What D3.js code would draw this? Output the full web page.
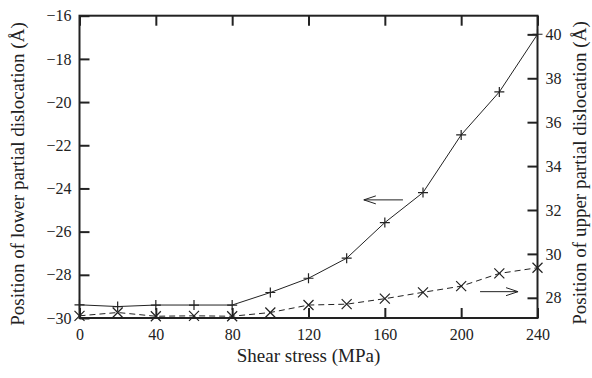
<!DOCTYPE html>
<html><head><meta charset="utf-8">
<script src="https://cdn.jsdelivr.net/npm/d3@7"></script>
<style>
html,body{margin:0;padding:0;background:#fff;}
svg{display:block;}
</style></head>
<body>
<svg id="chart" width="592" height="378"></svg>
<script>
// ---- data ----
const stress = [0, 20, 40, 60, 80, 100, 120, 140, 160, 180, 200, 220, 240];
const lowerPos = [-29.39, -29.47, -29.4, -29.4, -29.4, -28.82, -28.16, -27.23, -25.58, -24.19, -21.52, -19.53, -16.86];
const upperPos = [27.18, 27.33, 27.16, 27.18, 27.16, 27.33, 27.67, 27.71, 27.96, 28.25, 28.53, 29.11, 29.37];
const xTicks = [0, 40, 80, 120, 160, 200, 240];
const yLeftTicks = [-30, -28, -26, -24, -22, -20, -18, -16];
const yRightTicks = [28, 30, 32, 34, 36, 38, 40];
const xTitle = "Shear stress (MPa)";
const yLeftTitle = "Position of lower partial dislocation (Å)";
const yRightTitle = "Position of upper partial dislocation (Å)";
// annotation arrows: [x1, x2, yLeftValue]
const arrowLeft = [169.5, 149, -24.53];
const arrowRight = [209.9, 229.8, -28.78];

const FONT = "'Liberation Serif', 'Times New Roman', 'DejaVu Serif', serif";
const svg = d3.select("#chart");
const L = 79.5, R = 537.5, T = 15.7, B = 318;
const x = d3.scaleLinear().domain([0, 240]).range([L, R]);
const yL = d3.scaleLinear().domain([-30, -16]).range([B, T]);
const yR = d3.scaleLinear().domain([27.08, 40.85]).range([B, T]);
const fmt = d => (d < 0 ? "\u2212" + Math.abs(d) : String(d));
const fs = 16;

// axes
const gx = svg.append("g").attr("transform", `translate(0,${B})`)
  .call(d3.axisBottom(x).tickValues(xTicks).tickSizeInner(-10).tickSizeOuter(0).tickPadding(8).tickFormat(fmt));
const gxt = svg.append("g").attr("transform", `translate(0,${T})`)
  .call(d3.axisTop(x).tickValues(xTicks).tickSizeInner(-10).tickSizeOuter(0).tickFormat(""));
const gl = svg.append("g").attr("transform", `translate(${L},0)`)
  .call(d3.axisLeft(yL).tickValues(yLeftTicks).tickSizeInner(-10).tickSizeOuter(0).tickPadding(8).tickFormat(fmt));
const gr = svg.append("g").attr("transform", `translate(${R},0)`)
  .call(d3.axisRight(yR).tickValues(yRightTicks).tickSizeInner(-10).tickSizeOuter(0).tickPadding(8).tickFormat(fmt));
[gx, gxt, gl, gr].forEach(g => {
  g.attr("font-family", FONT).attr("font-size", fs);
  g.select(".domain").remove();
  g.selectAll(".tick line").attr("stroke", "#222").attr("stroke-width", 2);
  g.selectAll(".tick text").attr("fill", "#222");
});
gx.selectAll(".tick text").attr("dy", "0.9em");

// border
svg.append("rect").attr("x", L).attr("y", T).attr("width", R - L).attr("height", B - T)
  .attr("fill", "none").attr("stroke", "#222").attr("stroke-width", 2);

// lines
const lineL = d3.line().x((d, i) => x(stress[i])).y(d => yL(d));
const lineR = d3.line().x((d, i) => x(stress[i])).y(d => yR(d));
svg.append("path").datum(lowerPos).attr("d", lineL).attr("fill", "none").attr("stroke", "#222").attr("stroke-width", 1);
svg.append("path").datum(upperPos).attr("d", lineR).attr("fill", "none").attr("stroke", "#222").attr("stroke-width", 1)
  .attr("stroke-dasharray", "6,4");

const m = 5;
svg.append("g").selectAll("path").data(lowerPos).join("path")
  .attr("d", (d, i) => { const cx = x(stress[i]), cy = yL(d); return `M${cx - m},${cy}H${cx + m}M${cx},${cy - m}V${cy + m}`; })
  .attr("stroke", "#222").attr("stroke-width", 1.2);
svg.append("g").selectAll("path").data(upperPos).join("path")
  .attr("d", (d, i) => { const cx = x(stress[i]), cy = yR(d); return `M${cx - m},${cy - m}L${cx + m},${cy + m}M${cx - m},${cy + m}L${cx + m},${cy - m}`; })
  .attr("stroke", "#222").attr("stroke-width", 1.2);

// arrows
function arrow(a) {
  const x1 = x(a[0]), x2 = x(a[1]), yy = yL(a[2]);
  const dir = Math.sign(x2 - x1);
  svg.append("path").attr("d", `M${x1},${yy}H${x2}M${x2 - dir * 12},${yy - 4}L${x2},${yy}L${x2 - dir * 12},${yy + 4}`)
    .attr("fill", "none").attr("stroke", "#222").attr("stroke-width", 1);
}
arrow(arrowLeft); arrow(arrowRight);

// titles
const tg = svg.append("g").attr("font-family", FONT).attr("font-size", 19).attr("fill", "#222");
tg.append("text").attr("x", (L + R) / 2).attr("y", 362).attr("text-anchor", "middle").text(xTitle);
tg.append("text").attr("transform", `translate(24,174) rotate(-90)`).attr("text-anchor", "middle").text(yLeftTitle);
tg.append("text").attr("transform", `translate(586,173) rotate(-90)`).attr("text-anchor", "middle").text(yRightTitle);
</script>
</body></html>
